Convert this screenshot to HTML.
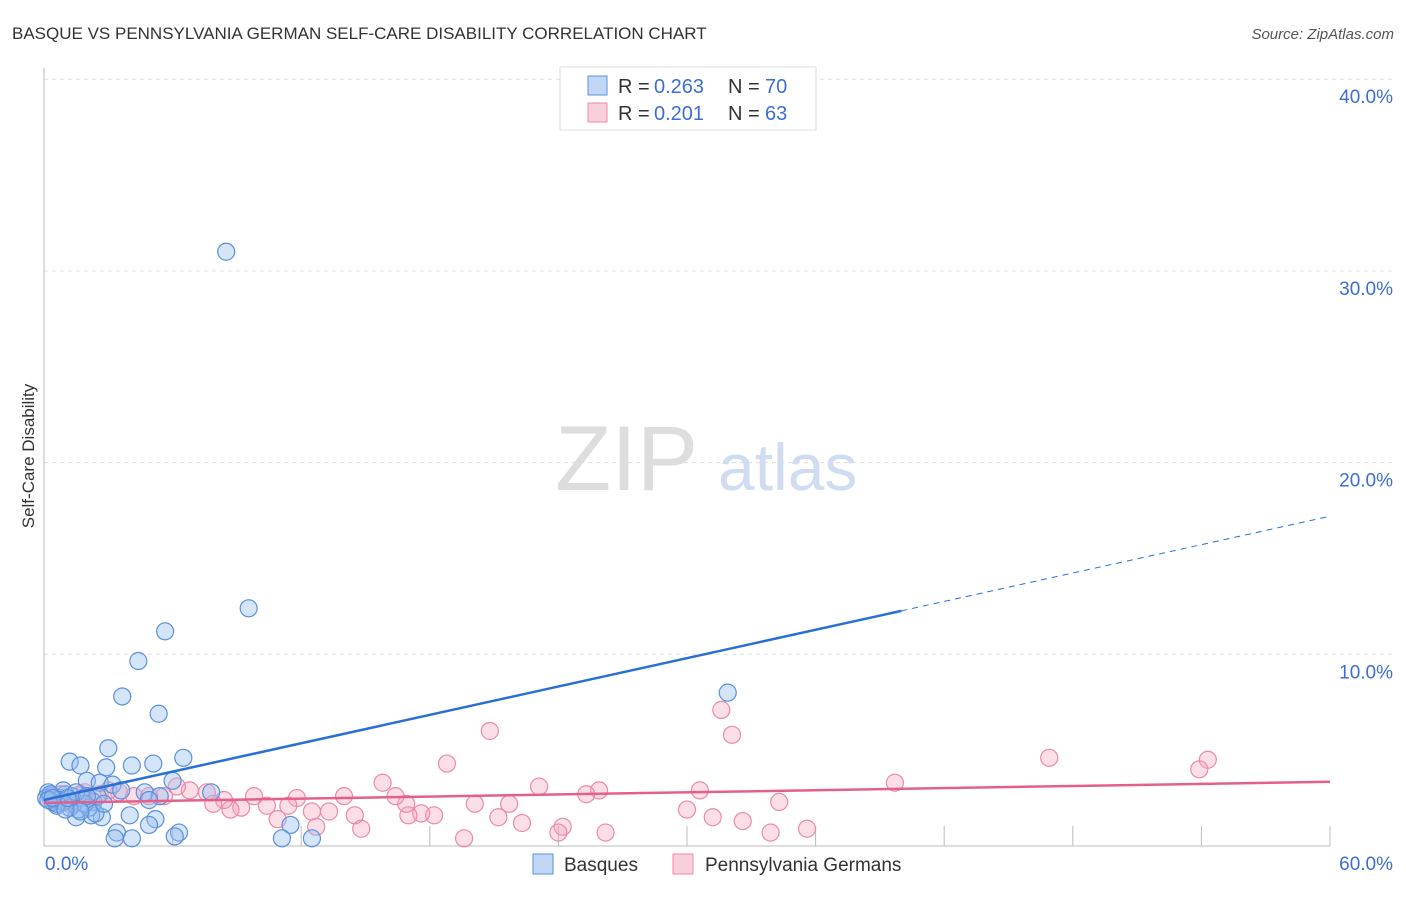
<!DOCTYPE html>
<html><head><meta charset="utf-8"><style>
body{margin:0;background:#fff;font-family:"Liberation Sans",sans-serif}
svg text{font-family:"Liberation Sans",sans-serif}
</style></head><body>
<svg id="c" width="1406" height="892"></svg>
<script>
const blueX=[37.3,9.55,5.65,4.4,3.65,5.35,31.9,3.0,6.5,1.2,1.7,5.1,4.1,2.9,2.0,2.6,3.2,6.0,7.8,4.7,5.4,4.9,4.0,5.2,4.9,3.4,6.3,6.1,4.1,3.3,11.5,11.1,12.5,2.7,2.2,1.5,0.8,0.3,0.5,1.0,1.4,1.8,2.3,0.2,0.6,1.1,1.6,2.1,2.5,0.4,0.9,1.3,1.9,0.7,1.2,0.1,0.3,2.4,2.8,1.7,0.9,1.5,2.0,0.6,1.0,0.2,3.6,1.1,8.5,0.4];
const blueY=[0,12.4,11.2,9.65,7.8,6.9,8.0,5.1,4.6,4.4,4.2,4.3,4.2,4.1,3.4,3.3,3.2,3.4,2.8,2.8,2.6,2.4,1.6,1.4,1.1,0.7,0.7,0.5,0.4,0.4,1.1,0.4,0.4,1.5,1.6,1.5,2.5,2.6,2.4,2.7,2.2,2.5,2.3,2.8,2.1,2.4,1.9,2.0,2.6,2.3,2.9,2.6,2.2,2.4,2.0,2.5,2.7,1.7,2.2,1.8,2.3,2.8,2.6,2.2,1.9,2.4,2.9,2.5,31.0,2.5];
const pinkX=[20.8,31.6,32.1,46.9,54.3,53.9,39.7,18.8,15.8,23.1,25.9,25.3,30.6,34.3,30.0,31.2,32.6,33.9,35.6,26.2,24.2,24.0,22.3,21.7,21.2,20.1,19.6,18.2,17.6,17.0,16.9,16.4,14.8,14.5,14.0,13.3,12.7,12.5,11.8,11.4,10.9,10.4,9.8,9.2,8.7,8.4,7.9,7.6,6.8,6.2,5.6,4.9,4.2,3.5,2.6,1.7,0.8,0.3,1.2,2.2,0.5,3.0,1.9];
const pinkY=[6.0,7.1,5.8,4.6,4.5,4.0,3.3,4.3,3.3,3.1,2.9,2.7,2.9,2.3,1.9,1.5,1.3,0.7,0.9,0.7,1.0,0.7,1.2,2.2,1.5,2.2,0.4,1.6,1.7,1.6,2.2,2.6,0.9,1.6,2.6,1.8,1.0,1.8,2.5,2.1,1.4,2.1,2.6,2.0,1.9,2.4,2.2,2.8,2.9,3.1,2.6,2.6,2.6,2.8,2.7,2.7,2.7,2.5,2.2,2.4,2.3,2.9,2.8];
const yTicks=[10,20,30,40];
const blueTrend=[2.4,17.2], pinkTrend=[2.25,3.35];
const svg=document.getElementById('c'),NS='http://www.w3.org/2000/svg';
const X=v=>44+v*(1286/60), Y=v=>846-v*19.17;
function el(t,a,txt){const e=document.createElementNS(NS,t);for(const k in a)e.setAttribute(k,a[k]);if(txt!=null)e.textContent=txt;svg.appendChild(e);return e;}
let e;
e=el('text',{x:12,y:39,'font-size':17,fill:'#333'},'BASQUE VS PENNSYLVANIA GERMAN SELF-CARE DISABILITY CORRELATION CHART');

e=el('text',{x:1394,y:39,'font-size':15,fill:'#555','text-anchor':'end','font-style':'italic'},'Source: ZipAtlas.com');

yTicks.forEach(t=>{
 e=el('line',{x1:44,x2:1394,y1:Y(t),y2:Y(t),stroke:'#ddd','stroke-dasharray':'4,4'});
 
 e=el('text',{x:1393,y:Y(t)+24,'font-size':19,fill:'#3b6fd4','text-anchor':'end'},t.toFixed(1)+'%');
 
});
e=el('line',{x1:44,x2:44,y1:68,y2:846,stroke:'#bbb'});
e=el('line',{x1:44,x2:1330,y1:846,y2:846,stroke:'#bbb'});
for(let i=1;i<=10;i++){e=el('line',{x1:X(i*6),x2:X(i*6),y1:826,y2:846,stroke:'#bbb'});}
e=el('text',{x:45,y:870,'font-size':19,fill:'#3b6fd4'},'0.0%');
e=el('text',{x:1393,y:870,'font-size':19,fill:'#3b6fd4','text-anchor':'end'},'60.0%');
e=el('text',{x:34,y:456,'font-size':17,fill:'#333','text-anchor':'middle',transform:'rotate(-90 34 456)'},'Self-Care Disability');

e=el('text',{x:555,y:490,'font-size':92,fill:'#ddd','font-family':'Liberation Serif'},'ZIP');
e=el('text',{x:718,y:490,'font-size':66,fill:'#cfdcf2'},'atlas');
pinkX.forEach((x,i)=>{e=el('circle',{cx:X(x),cy:Y(pinkY[i]),r:8.5,fill:'rgba(245,160,185,0.35)',stroke:'#ec8aa8','stroke-width':1.2});
 });
blueX.forEach((x,i)=>{if(blueY[i]<=0)return;e=el('circle',{cx:X(x),cy:Y(blueY[i]),r:8.5,fill:'rgba(150,190,240,0.4)',stroke:'#5b8fdc','stroke-width':1.2});
 });
const bAt=v=>blueTrend[0]+(blueTrend[1]-blueTrend[0])*v/60;
e=el('line',{x1:X(0),y1:Y(bAt(0)),x2:X(40),y2:Y(bAt(40)),stroke:'#2a6fd6','stroke-width':2.5});
e=el('line',{x1:X(40),y1:Y(bAt(40)),x2:X(60),y2:Y(bAt(60)),stroke:'#2a6fd6','stroke-width':1,'stroke-dasharray':'6,5'});
e=el('line',{x1:X(0),y1:Y(pinkTrend[0]),x2:X(60),y2:Y(pinkTrend[1]),stroke:'#e4608a','stroke-width':2.5});
e=el('rect',{x:560,y:67,width:256,height:63,fill:'#fff',stroke:'#ddd'});
[[0.263,70,'rgba(150,190,240,0.6)','#5b8fdc'],[0.201,63,'rgba(245,160,185,0.5)','#ec8aa8']].forEach((r,i)=>{
 const y=86+i*27;
 e=el('rect',{x:588,y:y-10,width:19,height:19,fill:r[2],stroke:r[3]});
 e=el('text',{x:618,y:y+7,'font-size':20,fill:'#333'},'R = ');
 e=el('text',{x:654,y:y+7,'font-size':20,fill:'#3b6fd4'},r[0].toFixed(3));
 e=el('text',{x:728,y:y+7,'font-size':20,fill:'#333'},'N = ');
 e=el('text',{x:765,y:y+7,'font-size':20,fill:'#3b6fd4'},r[1]);
});
e=el('rect',{x:533,y:854,width:20,height:20,fill:'rgba(150,190,240,0.6)',stroke:'#5b8fdc'});
e=el('text',{x:564,y:871,'font-size':19,fill:'#333'},'Basques');
e=el('rect',{x:673,y:854,width:20,height:20,fill:'rgba(245,160,185,0.5)',stroke:'#ec8aa8'});
e=el('text',{x:705,y:871,'font-size':19,fill:'#333'},'Pennsylvania Germans');
</script>
</body></html>
